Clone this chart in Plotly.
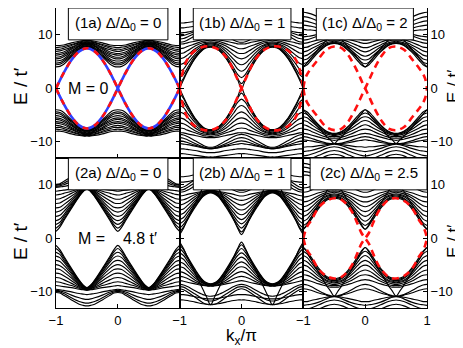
import plotly.graph_objects as go
from plotly.subplots import make_subplots

# Bulk bands repeat with period 1 in kx and are even in kx, so each band is
# read off the picture at these kx/pi points of half a period.
K_HALF = [0, 0.0625, 0.125, 0.25, 0.375, 0.4375, 0.5]

# upper bulk bands, E/t' (the lower bulk is the mirror image -E)
BANDS_1A = [
    [4.0, 4.1, 4.5, 5.9, 7.2, 7.6, 7.7],
    [4.4, 4.5, 4.9, 6.1, 7.3, 7.7, 7.8],
    [4.7, 4.8, 5.2, 6.3, 7.5, 7.8, 7.9],
    [5.1, 5.2, 5.5, 6.6, 7.6, 7.9, 8.0],
    [5.5, 5.6, 5.9, 6.8, 7.8, 8.0, 8.1],
    [5.8, 5.9, 6.2, 7.0, 7.9, 8.2, 8.2],
    [6.2, 6.3, 6.5, 7.3, 8.0, 8.3, 8.4],
    [6.5, 6.6, 6.8, 7.5, 8.2, 8.4, 8.5],
    [6.9, 7.0, 7.2, 7.7, 8.3, 8.5, 8.6],
    [7.3, 7.3, 7.5, 8.0, 8.5, 8.6, 8.7],
    [7.6, 7.7, 7.8, 8.2, 8.6, 8.8, 8.8],
    [8.0, 8.0, 8.1, 8.5, 8.8, 8.9, 8.9],
]
BANDS_1B = [
    [0.0, 1.6, 3.1, 5.6, 7.2, 7.6, 7.7],
    [0.9, 1.9, 3.3, 5.7, 7.3, 7.7, 7.8],
    [2.0, 2.6, 3.8, 6.0, 7.5, 7.8, 7.9],
    [3.2, 3.6, 4.6, 6.4, 7.7, 8.0, 8.1],
    [4.4, 4.7, 5.4, 6.9, 8.0, 8.2, 8.3],
    [5.5, 5.7, 6.2, 7.4, 8.2, 8.4, 8.5],
    [6.5, 6.6, 7.0, 7.9, 8.5, 8.6, 8.7],
    [7.4, 7.5, 7.8, 8.3, 8.8, 8.9, 9.0],
    [8.3, 8.3, 8.5, 8.8, 9.1, 9.2, 9.2],
    [8.6, 8.7, 9.0, 9.8, 10.6, 10.9, 11.0],
    [9.2, 9.3, 9.6, 10.3, 10.9, 11.1, 11.2],
    [9.8, 9.9, 10.1, 10.6, 11.0, 11.2, 11.2],
    [10.3, 10.4, 10.5, 10.8, 11.1, 11.2, 11.3],
    [11.3, 11.3, 11.4, 11.6, 11.9, 12.0, 12.0],
    [12.2, 12.2, 12.3, 12.5, 12.7, 12.8, 12.8],
]
BANDS_1C = [
    [4.0, 4.4, 5.2, 6.8, 8.0, 8.3, 8.4],
    [4.0, 4.8, 5.7, 7.4, 9.0, 9.6, 10.3],
    [4.6, 4.9, 5.6, 7.0, 8.1, 8.4, 8.5],
    [5.3, 5.5, 6.1, 7.3, 8.3, 8.5, 8.6],
    [6.0, 6.2, 6.7, 7.7, 8.5, 8.7, 8.8],
    [6.8, 7.0, 7.4, 8.1, 8.8, 9.0, 9.0],
    [7.6, 7.7, 8.0, 8.6, 9.1, 9.3, 9.3],
    [8.4, 8.5, 8.7, 9.1, 9.5, 9.6, 9.7],
    [9.0, 9.1, 9.3, 9.8, 10.2, 10.3, 10.3],
    [9.6, 9.7, 9.8, 10.1, 10.3, 10.3, 10.3],
    [11.0, 10.9, 10.9, 10.7, 10.5, 10.4, 10.3],
    [11.8, 11.7, 11.6, 11.2, 10.7, 10.5, 10.4],
    [12.6, 12.5, 12.3, 11.8, 11.2, 11.0, 10.9],
    [13.4, 13.3, 13.1, 12.5, 11.9, 11.7, 11.6],
    [14.2, 14.1, 13.9, 13.3, 12.6, 12.4, 12.3],
]
BANDS_2A = [
    [1.3, 2.1, 3.3, 5.6, 7.8, 8.7, 9.2],
    [1.9, 2.5, 3.6, 5.8, 7.9, 8.8, 9.3],
    [2.6, 3.0, 4.0, 6.0, 8.0, 8.8, 9.3],
    [3.3, 3.6, 4.4, 6.3, 8.1, 8.9, 9.4],
    [4.1, 4.3, 5.0, 6.6, 8.3, 9.0, 9.4],
    [4.9, 5.1, 5.6, 7.0, 8.5, 9.1, 9.4],
    [5.7, 5.8, 6.3, 7.4, 8.7, 9.2, 9.5],
    [6.5, 6.6, 7.0, 7.9, 8.9, 9.3, 9.5],
    [7.3, 7.4, 7.7, 8.4, 9.1, 9.4, 9.6],
    [8.1, 8.2, 8.4, 8.8, 9.3, 9.5, 9.6],
    [8.8, 8.9, 9.0, 9.2, 9.5, 9.6, 9.7],
    [9.5, 9.6, 9.7, 10.0, 10.3, 10.4, 10.5],
    [9.7, 9.8, 10.0, 10.6, 11.1, 11.3, 11.4],
    [9.9, 10.0, 10.3, 11.1, 11.8, 12.0, 12.1],
    [10.1, 10.2, 10.6, 11.5, 12.3, 12.5, 12.6],
]
BANDS_2B = [
    [0.7, 1.9, 3.5, 6.5, 9.5, 11.0, 12.4],
    [1.2, 2.1, 3.4, 5.8, 7.8, 8.3, 8.5],
    [1.9, 2.6, 3.7, 6.0, 7.9, 8.4, 8.6],
    [2.7, 3.2, 4.2, 6.3, 8.0, 8.5, 8.6],
    [3.5, 3.9, 4.8, 6.6, 8.1, 8.5, 8.7],
    [4.4, 4.7, 5.4, 7.0, 8.3, 8.6, 8.7],
    [5.3, 5.5, 6.1, 7.4, 8.4, 8.7, 8.8],
    [6.2, 6.4, 6.8, 7.8, 8.6, 8.8, 8.8],
    [7.1, 7.2, 7.5, 8.2, 8.7, 8.8, 8.9],
    [7.9, 8.0, 8.2, 8.5, 8.8, 8.9, 8.9],
    [8.6, 8.7, 9.0, 9.8, 10.5, 10.7, 10.8],
    [9.0, 9.1, 9.5, 10.4, 11.3, 11.6, 11.7],
    [9.4, 9.6, 10.0, 11.0, 12.0, 12.3, 12.4],
    [10.5, 10.5, 10.6, 10.9, 11.2, 11.3, 11.3],
    [11.5, 11.5, 11.6, 11.9, 12.2, 12.3, 12.3],
]
BANDS_2C = [
    [1.7, 2.4, 3.5, 5.6, 7.1, 7.4, 7.5],
    [1.7, 2.6, 3.9, 6.4, 8.8, 9.8, 10.8],
    [2.4, 2.9, 3.9, 5.9, 7.3, 7.6, 7.7],
    [3.2, 3.6, 4.5, 6.3, 7.5, 7.8, 7.9],
    [4.1, 4.4, 5.1, 6.7, 7.8, 8.0, 8.1],
    [5.0, 5.2, 5.8, 7.1, 8.0, 8.2, 8.3],
    [5.9, 6.1, 6.5, 7.6, 8.3, 8.5, 8.6],
    [6.8, 6.9, 7.2, 8.0, 8.6, 8.8, 8.8],
    [7.7, 7.8, 8.0, 8.5, 8.9, 9.1, 9.1],
    [8.6, 8.7, 9.0, 9.8, 10.5, 10.7, 10.8],
    [9.4, 9.5, 9.7, 10.2, 10.6, 10.8, 10.8],
    [11.8, 11.8, 11.6, 11.3, 11.0, 10.9, 10.8],
    [12.5, 12.4, 12.3, 11.9, 11.3, 11.0, 10.9],
    [13.3, 13.2, 13.0, 12.4, 11.8, 11.6, 11.5],
    [14.0, 13.9, 13.7, 13.2, 12.6, 12.4, 12.3],
]

# edge states for kx/pi from -1 to 0 (they are odd in kx, and come in +/- pairs)
EDGE_K_1A = [-1, -0.875, -0.75, -0.625, -0.5, -0.375, -0.25, -0.125, 0]
EDGE_E_1A = [0, 2.9, 5.3, 6.9, 7.5, 6.9, 5.3, 2.9, 0]
EDGE_K_1B = [-1, -0.97, -0.93, -0.88, -0.8, -0.7, -0.6, -0.5, -0.4, -0.3, -0.2, -0.1, 0]
EDGE_E_1B = [0, 2.0, 3.9, 5.3, 6.6, 7.4, 7.8, 7.8, 7.4, 6.5, 5.0, 2.6, 0]
EDGE_K_1C = [-1, -0.97, -0.93, -0.87, -0.76, -0.63, -0.5, -0.38, -0.28, -0.2, -0.12, -0.05, 0]
EDGE_E_1C = [0, 1.8, 2.8, 3.8, 5.4, 7.2, 7.8, 7.5, 6.3, 4.8, 3.0, 1.2, 0]
EDGE_K_2C = [-1, -0.97, -0.93, -0.87, -0.75, -0.63, -0.5, -0.38, -0.28, -0.2, -0.13, -0.06, 0]
EDGE_E_2C = [0, 1.3, 2.4, 3.4, 5.8, 7.0, 7.5, 7.2, 6.1, 4.7, 2.9, 1.0, 0]

LABELS = {
    (1, 1): "(1a) Δ/Δ<sub>0</sub> = 0",
    (1, 2): "(1b) Δ/Δ<sub>0</sub> = 1",
    (1, 3): "(1c) Δ/Δ<sub>0</sub> = 2",
    (2, 1): "(2a) Δ/Δ<sub>0</sub> = 0",
    (2, 2): "(2b) Δ/Δ<sub>0</sub> = 1",
    (2, 3): "(2c) Δ/Δ<sub>0</sub> = 2.5",
}
BOXES = {(1, 1): (-0.8, 0.81), (1, 2): (-0.78, 0.8), (1, 3): (-0.79, 0.78),
         (2, 1): (-0.8, 0.81), (2, 2): (-0.78, 0.8), (2, 3): (-0.89, 1.0)}

PANELS = [
    (1, 1, BANDS_1A, EDGE_K_1A, EDGE_E_1A),
    (1, 2, BANDS_1B, EDGE_K_1B, EDGE_E_1B),
    (1, 3, BANDS_1C, EDGE_K_1C, EDGE_E_1C),
    (2, 1, BANDS_2A, None, None),
    (2, 2, BANDS_2B, None, None),
    (2, 3, BANDS_2C, EDGE_K_2C, EDGE_E_2C),
]

FONT = "Liberation Sans, Arial, sans-serif"


def tile(prof):
    half = list(zip(K_HALF, prof))
    seg = half + [(1 - k, v) for k, v in reversed(half[:-1])]
    full = [(k - 1, v) for k, v in seg] + seg[1:]
    return [k for k, _ in full], [v for _, v in full]


def odd(ks, es):
    return (ks + [-k for k in reversed(ks[:-1])],
            es + [-e for e in reversed(es[:-1])])


fig = make_subplots(rows=2, cols=3, horizontal_spacing=0, vertical_spacing=0)

for r, c, bands, ek, ee in PANELS:
    xs, ys = [], []
    for prof in bands:
        k, e = tile(prof)
        xs += k + [None] + k + [None]
        ys += e + [None] + [-v for v in e] + [None]
    fig.add_trace(go.Scatter(x=xs, y=ys, mode="lines", hoverinfo="skip",
                             line=dict(color="black", width=1.15, shape="spline")),
                  row=r, col=c)
    if ek is not None:
        k, e = odd(ek, ee)
        for sgn in (1, -1):
            y = [sgn * v for v in e]
            if (r, c) == (1, 1):
                fig.add_trace(go.Scatter(x=k, y=y, mode="lines", hoverinfo="skip",
                                         line=dict(color="#3040ff", width=2.6, shape="spline")),
                              row=r, col=c)
                fig.add_trace(go.Scatter(x=k, y=y, mode="lines", hoverinfo="skip",
                                         line=dict(color="#ff1010", width=2.6, shape="spline",
                                                   dash="6px,6px")),
                              row=r, col=c)
            else:
                fig.add_trace(go.Scatter(x=k, y=y, mode="lines", hoverinfo="skip",
                                         line=dict(color="#ff1010", width=2.6, shape="spline",
                                                   dash="7px,5px")),
                              row=r, col=c)

    x0, x1 = BOXES[(r, c)]
    fig.add_shape(type="rect", x0=x0, x1=x1, y0=9.05, y1=15, row=r, col=c,
                  line=dict(color="black", width=1), fillcolor="white", layer="above")
    fig.add_annotation(x=(x0 + x1) / 2, y=12.2, text=LABELS[(r, c)], showarrow=False,
                       font=dict(family=FONT, size=15, color="black"),
                       xanchor="center", yanchor="middle", row=r, col=c)

    xt = [-1, 0, 1] if c == 3 else [-1, 0]
    fig.update_xaxes(range=[-1, 1], tickvals=xt, ticktext=["−1", "0", "1"][:len(xt)],
                     showticklabels=(r == 2), row=r, col=c)
    fig.update_yaxes(range=[-13, 15], tickvals=[-10, 0, 10],
                     ticktext=["−10", "0", "10"],
                     showticklabels=(c != 2), side="right" if c == 3 else "left",
                     row=r, col=c)

fig.update_xaxes(showgrid=False, zeroline=False, showline=True, mirror="ticks",
                 linecolor="black", linewidth=1, ticks="inside", ticklen=4,
                 tickcolor="black", tickfont=dict(family=FONT, size=13, color="black"))
fig.update_yaxes(showgrid=False, zeroline=False, showline=True, mirror="ticks",
                 linecolor="black", linewidth=1, ticks="inside", ticklen=4,
                 tickcolor="black", tickfont=dict(family=FONT, size=13, color="black"))

fig.add_annotation(x=-0.48, y=0, text="M = 0", showarrow=False, xref="x1", yref="y1",
                   font=dict(family=FONT, size=16, color="black"))
fig.add_annotation(x=0, y=0, text="M =    4.8 t′", showarrow=False, xref="x4", yref="y4",
                   font=dict(family=FONT, size=16, color="black"))

for xp, fs in ((-0.097, 19), (1.07, 17)):
    for yp in (0.74, 0.223):
        fig.add_annotation(x=xp, y=yp, xref="paper", yref="paper", text="E / t′",
                           showarrow=False, textangle=-90, xanchor="center",
                           yanchor="middle",
                           font=dict(family=FONT, size=fs, color="black"))
fig.add_annotation(x=0.5, y=-0.052, xref="paper", yref="paper", text="k<sub>x</sub>/π",
                   showarrow=False, yanchor="top",
                   font=dict(family=FONT, size=17, color="black"))

fig.update_layout(width=463, height=348, showlegend=False,
                  margin=dict(l=48, r=44, t=0, b=48),
                  paper_bgcolor="white", plot_bgcolor="white")

fig.write_html("out.html")
